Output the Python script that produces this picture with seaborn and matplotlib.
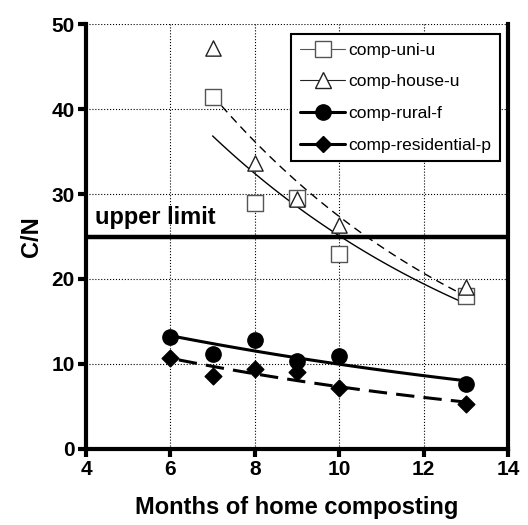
import numpy as np
import pandas as pd
import matplotlib
matplotlib.use("Agg")
import matplotlib.pyplot as plt
import seaborn as sns
from matplotlib.lines import Line2D

# data
months_uni = [7, 8, 9, 10, 13]
cn_uni = [41.4, 28.9, 29.5, 23.0, 18.0]
months_house = [7, 8, 9, 10, 13]
cn_house = [47.2, 33.6, 29.4, 26.3, 19.0]
months_rural = [6, 7, 8, 9, 10, 13]
cn_rural = [13.2, 11.2, 12.8, 10.4, 10.9, 7.6]
months_res = [6, 7, 8, 9, 10, 13]
cn_res = [10.7, 8.6, 9.4, 9.0, 7.2, 5.3]
labels = ["comp-uni-u", "comp-house-u", "comp-rural-f", "comp-residential-p"]
UPPER = 25


def exp_fit(x, y, x0, x1):
  b, a = np.polyfit(x, np.log(y), 1)
  xs = np.linspace(x0, x1, 60)
  return pd.DataFrame({"x": xs, "y": np.exp(a + b * xs)})


sns.set_style("white")
plt.rcParams["font.family"] = ["Liberation Sans", "DejaVu Sans"]
plt.rcParams["text.color"] = "black"
fig = plt.figure(figsize=(5.28, 5.25), dpi=100)
ax = fig.add_axes([0.163, 0.145, 0.799, 0.809])

series = [
  (months_uni, cn_uni, "s", "white", "#555555", 11, 7, "-", 1.0),
  (months_house, cn_house, "^", "white", "#222222", 11, 7, (0, (6, 4)), 1.0),
  (months_rural, cn_rural, "o", "black", "black", 11, 6, "-", 2.2),
  (months_res, cn_res, "D", "black", "black", 8.5, 6.2, (0, (6, 3)), 2.2),
]

handles = []
for (x, y, mk, fc, ec, ms, x0, ls, lw), lab in zip(series, labels):
  fit = exp_fit(x, y, x0, 13)
  sns.lineplot(data=fit, x="x", y="y", ax=ax, color="black", linestyle=ls, linewidth=lw)
  sns.scatterplot(x=x, y=y, ax=ax, marker=mk, s=ms ** 2, facecolor=fc, edgecolor=ec,
                  linewidth=1.0, zorder=5)
  handles.append(Line2D([], [], color=ec if fc == "white" else "black",
                        linewidth=0.8 if lw < 2 else lw, marker=mk, markersize=ms,
                        markerfacecolor=fc, markeredgecolor=ec, label=lab))

ax.axhline(UPPER, color="black", linewidth=3.2, zorder=6)
ax.text(4.2, 26.5, "upper limit", fontsize=17, fontweight="bold", color="black")

ax.set_xlim(4, 14)
ax.set_ylim(0, 50)
ax.set_xticks([4, 6, 8, 10, 12, 14])
ax.set_yticks([0, 10, 20, 30, 40, 50])
ax.grid(True, linestyle=":", color="black", linewidth=0.8)
for s in ["left", "bottom", "right"]:
  ax.spines[s].set_linewidth(3)
  ax.spines[s].set_color("black")
ax.spines["top"].set_visible(False)
ax.tick_params(direction="out", length=6, width=3, labelsize=15, colors="black",
               left=True, bottom=True, pad=2)
for t in ax.get_xticklabels() + ax.get_yticklabels():
  t.set_fontweight("bold")
ax.set_xlabel("Months of home composting", fontsize=17, fontweight="bold", labelpad=12,
              color="black")
ax.set_ylabel("C/N", fontsize=17, fontweight="bold", labelpad=6, color="black")

leg = ax.legend(handles=handles, loc="upper right", bbox_to_anchor=(0.99, 0.985), fontsize=12.5,
                frameon=True, fancybox=False, edgecolor="black", framealpha=1,
                handlelength=2.6, labelspacing=0.95, borderpad=0.5, handletextpad=0.2,
                borderaxespad=0.2)
leg.get_frame().set_linewidth(1.5)
leg.set_zorder(10)

fig.savefig("out.png", dpi=100)
